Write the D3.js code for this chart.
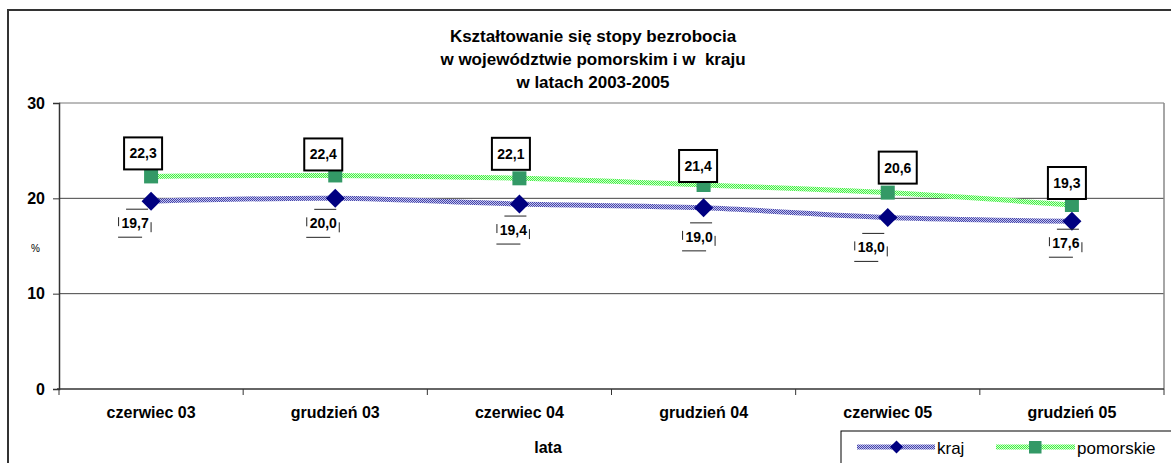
<!DOCTYPE html>
<html><head><meta charset="utf-8">
<script src="https://cdn.jsdelivr.net/npm/d3@7"></script>
<style>
html,body{margin:0;padding:0;background:#fff;}
svg{display:block;font-family:"Liberation Sans",Arial,sans-serif;}
</style></head>
<body>
<svg id="chart" width="1171" height="463"></svg>
<script>
// ---- data ----
const categories = ["czerwiec 03","grudzień 03","czerwiec 04","grudzień 04","czerwiec 05","grudzień 05"];
const krajValues = [19.7, 20.0, 19.4, 19.0, 18.0, 17.6];
const pomorskieValues = [22.3, 22.4, 22.1, 21.4, 20.6, 19.3];
const yTicks = [0, 10, 20, 30];
const titleLines = ["Kształtowanie się stopy bezrobocia","w województwie pomorskim i w  kraju","w latach 2003-2005"];
// label placement offsets (layout, relative to markers)
const pomLabelDx = [-8, -12, -8.5, -5.5, 10, -5];
const pomLabelDy = [-23, -21, -24.5, -19, -25, -22];
const krajLabelDx = [-16, -12, -6, -4.5, -16.5, -6];
const krajLabelDy = [22, 25, 26, 29, 30, 22];

const fmt = v => d3.format(".1f")(v).replace(".", ",");

const svg = d3.select("#chart");
const L = 59, R = 1164, T = 103, B = 389;

const defs = svg.append("defs");
function checker(id, bg, fg){
  const p = defs.append("pattern").attr("id", id).attr("patternUnits","userSpaceOnUse")
    .attr("width",2).attr("height",2);
  p.append("rect").attr("width",2).attr("height",2).attr("fill",bg);
  p.append("rect").attr("width",1).attr("height",1).attr("fill",fg);
  p.append("rect").attr("x",1).attr("y",1).attr("width",1).attr("height",1).attr("fill",fg);
}
checker("patKraj", "#c4c4f0", "#4545a8");
checker("patPom", "#d0ffd0", "#44f044");

// outer frame
svg.append("rect").attr("x",8).attr("y",10).attr("width",1200).attr("height",500)
  .attr("fill","none").attr("stroke","#333").attr("stroke-width",2);

// title
const title = svg.append("text").attr("text-anchor","middle").attr("font-weight","bold")
  .attr("font-size",17).attr("fill","#000").style("white-space","pre");
titleLines.forEach((t,i)=>{
  title.append("tspan").attr("x",593).attr("y",41.5 + i*23.3).style("white-space","pre").text(t);
});

const x = d3.scaleBand().domain(categories).range([L, R]).padding(0);
const y = d3.scaleLinear().domain([0, 30]).range([B, T]);
const cx = c => x(c) + x.bandwidth()/2;

// gridlines
svg.append("g").selectAll("line").data(yTicks.filter(t=>t>0)).join("line")
  .attr("x1",L).attr("x2",R).attr("y1",d=>y(d)).attr("y2",d=>y(d))
  .attr("stroke",d=>d===30?"#777":"#444").attr("stroke-width",1);
// right border
svg.append("line").attr("x1",R).attr("x2",R).attr("y1",T).attr("y2",B)
  .attr("stroke","#888").attr("stroke-width",1.5);

// y axis
const yAxis = svg.append("g").attr("transform",`translate(${L},0)`)
  .call(d3.axisLeft(y).tickValues(yTicks).tickSize(6).tickPadding(8).tickFormat(d3.format("d")));
yAxis.select(".domain").attr("stroke","#333").attr("stroke-width",1.5);
yAxis.selectAll(".tick line").attr("stroke","#333");
yAxis.selectAll(".tick text").attr("font-size",16).attr("font-weight","bold")
  .attr("font-family","Liberation Sans, Arial, sans-serif").attr("fill","#000");

// x axis
const xAxis = svg.append("g").attr("transform",`translate(0,${B})`)
  .call(d3.axisBottom(x).tickSize(0).tickPadding(0));
xAxis.select(".domain").remove();
xAxis.selectAll(".tick text").attr("font-size",16).attr("font-weight","bold")
  .attr("font-family","Liberation Sans, Arial, sans-serif").attr("fill","#000")
  .attr("dy",null).attr("y",29);
svg.append("line").attr("x1",L-2).attr("x2",R).attr("y1",B).attr("y2",B)
  .attr("stroke","#333").attr("stroke-width",1.5);
const bounds = categories.map(c=>x(c)).concat([R]);
svg.append("g").selectAll("line").data(bounds).join("line")
  .attr("x1",d=>d).attr("x2",d=>d).attr("y1",B).attr("y2",B+6).attr("stroke","#333");

// axis titles
svg.append("text").attr("x",548).attr("y",453).attr("text-anchor","middle")
  .attr("font-size",16).attr("font-weight","bold").text("lata");
svg.append("text").attr("x",35.5).attr("y",252).attr("text-anchor","middle")
  .attr("font-size",10).text("%");

// lines
const line = d3.line().x((d,i)=>cx(categories[i])).y(d=>y(d)).curve(d3.curveCardinal.tension(0));
svg.append("path").datum(krajValues).attr("d",line).attr("fill","none")
  .attr("stroke","url(#patKraj)").attr("stroke-width",5);
svg.append("path").datum(pomorskieValues).attr("d",line).attr("fill","none")
  .attr("stroke","url(#patPom)").attr("stroke-width",5);

const diamond = r => `M0,${-r}L${r},0L0,${r}L${-r},0Z`;

// markers
svg.append("g").selectAll("rect").data(pomorskieValues).join("rect")
  .attr("x",(d,i)=>cx(categories[i])-7).attr("y",d=>y(d)-7)
  .attr("width",14).attr("height",14).attr("fill","#339966");
svg.append("g").selectAll("path").data(krajValues).join("path")
  .attr("transform",(d,i)=>`translate(${cx(categories[i])},${y(d)})`)
  .attr("d",diamond(9.5)).attr("fill","#000080");

// pomorskie labels (boxed)
const pl = svg.append("g").selectAll("g").data(pomorskieValues).join("g")
  .attr("transform",(d,i)=>`translate(${cx(categories[i])+pomLabelDx[i]},${y(d)+pomLabelDy[i]})`);
pl.append("rect").attr("x",-19).attr("y",-16).attr("width",38).attr("height",32)
  .attr("fill","#fff").attr("stroke","#000").attr("stroke-width",2);
pl.append("text").attr("text-anchor","middle").attr("y",5).attr("font-size",14)
  .attr("font-weight","bold").text(d=>fmt(d));

// kraj labels (broken frame)
const kl = svg.append("g").selectAll("g").data(krajValues).join("g")
  .attr("transform",(d,i)=>`translate(${cx(categories[i])+krajLabelDx[i]},${y(d)+krajLabelDy[i]})`);
kl.append("text").attr("text-anchor","middle").attr("y",5).attr("font-size",14)
  .attr("font-weight","bold").text(d=>fmt(d));
const seg = [[-9,-14,13,-14],[-17,14,7,14],[-16.5,-6,-16.5,3],[16,-1,16,9]];
seg.forEach(s=>{
  kl.append("line").attr("x1",s[0]).attr("y1",s[1]).attr("x2",s[2]).attr("y2",s[3])
    .attr("stroke","#222").attr("stroke-width",1);
});

// legend
const lg = svg.append("g");
lg.append("rect").attr("x",841).attr("y",431).attr("width",400).attr("height",60)
  .attr("fill","#fff").attr("stroke","#000").attr("stroke-width",1);
lg.append("line").attr("x1",857).attr("x2",935).attr("y1",447).attr("y2",447)
  .attr("stroke","url(#patKraj)").attr("stroke-width",5);
lg.append("path").attr("transform","translate(896.5,447)").attr("d",diamond(6.5)).attr("fill","#000080");
lg.append("text").attr("x",937).attr("y",454).attr("font-size",17).text("kraj");
lg.append("line").attr("x1",996).attr("x2",1075).attr("y1",447).attr("y2",447)
  .attr("stroke","url(#patPom)").attr("stroke-width",5);
lg.append("rect").attr("x",1029).attr("y",441).attr("width",12.5).attr("height",12.5).attr("fill","#339966");
lg.append("text").attr("x",1077).attr("y",454).attr("font-size",17).text("pomorskie");
</script>
</body></html>
